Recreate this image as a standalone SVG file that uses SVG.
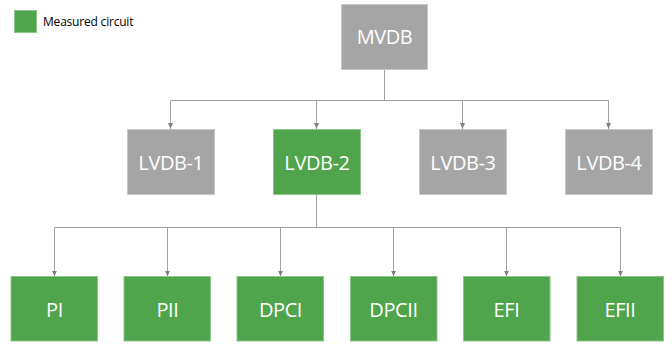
<svg xmlns="http://www.w3.org/2000/svg" width="672" height="347" viewBox="0 0 672 347">
  <style>
    .box { stroke-width: 1; }
    .grey { fill: #a5a5a5; stroke: #c8c8c8; }
    .green { fill: #50a44b; stroke: #8cc588; }
    .lbl { font-family: "Open Sans", "Noto Sans", sans-serif; font-size: 20px; letter-spacing: -0.4px; fill: #ffffff; text-anchor: middle; }
    .legend { font-family: "Open Sans", "Noto Sans", sans-serif; font-size: 12px; letter-spacing: -0.2px; fill: #000000; }
    .wire { fill: none; stroke: #a0a0a0; stroke-width: 1; }
  </style>
  <defs>
    <marker id="arrow" viewBox="0 0 6 5" refX="6" refY="2.5" markerWidth="6" markerHeight="5" markerUnits="userSpaceOnUse" orient="auto">
      <path d="M0,0 L6,2.5 L0,5 Z" fill="#808080"/>
    </marker>
  </defs>
  <rect width="672" height="347" fill="#ffffff"/>

  <!-- legend -->
  <g id="legend">
    <rect class="box green" x="14.5" y="10.5" width="22" height="22"/>
    <text class="legend" x="43" y="25.5">Measured circuit</text>
  </g>

  <!-- connectors -->
  <g id="connectors">
    <path class="wire" d="M384.5,69 V100.5"/>
    <path class="wire" d="M170.5,100.5 H608.5"/>
    <path class="wire" d="M170.5,100.5 V129" marker-end="url(#arrow)"/>
    <path class="wire" d="M316.5,100.5 V129" marker-end="url(#arrow)"/>
    <path class="wire" d="M462.5,100.5 V129" marker-end="url(#arrow)"/>
    <path class="wire" d="M608.5,100.5 V129" marker-end="url(#arrow)"/>

    <path class="wire" d="M316.5,194 V227.5"/>
    <path class="wire" d="M54.5,227.5 H620.5"/>
    <path class="wire" d="M54.5,227.5 V276.5" marker-end="url(#arrow)"/>
    <path class="wire" d="M167.5,227.5 V276.5" marker-end="url(#arrow)"/>
    <path class="wire" d="M280.5,227.5 V276.5" marker-end="url(#arrow)"/>
    <path class="wire" d="M393.5,227.5 V276.5" marker-end="url(#arrow)"/>
    <path class="wire" d="M506.5,227.5 V276.5" marker-end="url(#arrow)"/>
    <path class="wire" d="M620.5,227.5 V276.5" marker-end="url(#arrow)"/>
  </g>

  <!-- top level -->
  <g id="mvdb">
    <rect class="box grey" x="341.5" y="4.5" width="86" height="65"/>
    <text class="lbl" x="384.5" y="44">MVDB</text>
  </g>

  <!-- second level -->
  <g id="lvdb-1">
    <rect class="box grey" x="127.5" y="129.5" width="87" height="65"/>
    <text class="lbl" x="171" y="170">LVDB-1</text>
  </g>
  <g id="lvdb-2">
    <rect class="box green" x="273.5" y="129.5" width="87" height="65"/>
    <text class="lbl" x="317" y="170">LVDB-2</text>
  </g>
  <g id="lvdb-3">
    <rect class="box grey" x="419.5" y="129.5" width="87" height="65"/>
    <text class="lbl" x="463" y="170">LVDB-3</text>
  </g>
  <g id="lvdb-4">
    <rect class="box grey" x="565.5" y="129.5" width="87" height="65"/>
    <text class="lbl" x="609" y="170">LVDB-4</text>
  </g>

  <!-- circuits under LVDB-2 -->
  <g id="pi">
    <rect class="box green" x="11" y="276.5" width="86.5" height="64.5"/>
    <text class="lbl" x="54.5" y="316.5">PI</text>
  </g>
  <g id="pii">
    <rect class="box green" x="124" y="276.5" width="86.5" height="64.5"/>
    <text class="lbl" x="167.5" y="316.5">PII</text>
  </g>
  <g id="dpci">
    <rect class="box green" x="237" y="276.5" width="86.5" height="64.5"/>
    <text class="lbl" x="280.5" y="316.5">DPCI</text>
  </g>
  <g id="dpcii">
    <rect class="box green" x="350.5" y="276.5" width="86.5" height="64.5"/>
    <text class="lbl" x="393.5" y="316.5">DPCII</text>
  </g>
  <g id="efi">
    <rect class="box green" x="463.5" y="276.5" width="86.5" height="64.5"/>
    <text class="lbl" x="506.5" y="316.5">EFI</text>
  </g>
  <g id="efii">
    <rect class="box green" x="577" y="276.5" width="86.5" height="64.5"/>
    <text class="lbl" x="620" y="316.5">EFII</text>
  </g>
</svg>
